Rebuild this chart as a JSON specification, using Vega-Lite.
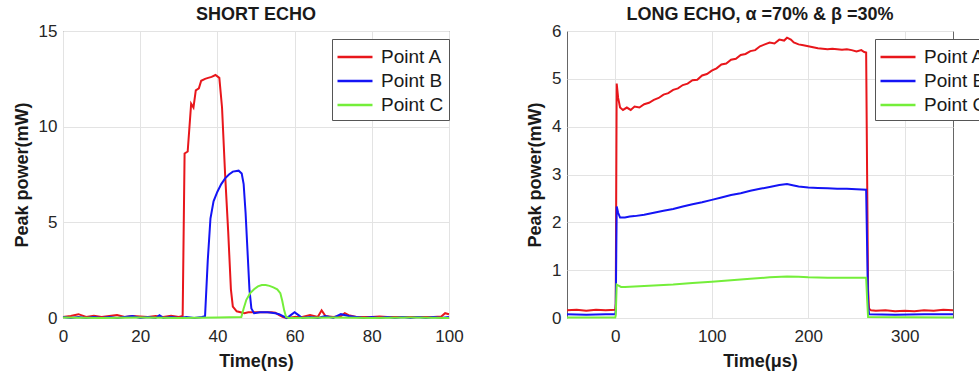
{
  "$schema": "https://vega.github.io/schema/vega-lite/v6.json",
  "padding": {"left": 12, "top": 5, "right": -7, "bottom": 0},
  "background": "white",
  "spacing": 62,
  "config": {
    "font": "Liberation Sans",
    "view": {"stroke": "#666666", "strokeWidth": 1},
    "axis": {
      "domain": false, "ticks": false, "grid": true, "gridColor": "#e3e3e3", "labelFlush": false,
      "labelFont": "Liberation Sans", "labelFontSize": 17, "labelColor": "#262626",
      "titleFont": "Liberation Sans", "titleFontSize": 18, "titleFontWeight": "bold", "titleColor": "#1a1a1a"
    },
    "axisY": {"labelPadding": 6, "titlePadding": 7},
    "axisX": {"labelPadding": 10, "titlePadding": 8},
    "title": {"font": "Liberation Sans", "fontSize": 18, "fontWeight": "bold", "color": "#1a1a1a", "offset": -2},
    "legend": {
      "orient": "none", "legendY": 8, "title": null,
      "symbolType": "M-1.5,0H1.5", "symbolSize": 544, "symbolStrokeWidth": 2.5, "symbolOffset": 5,
      "labelFont": "Liberation Sans", "labelFontSize": 19, "labelColor": "#1a1a1a", "labelOffset": 13,
      "fillColor": "white", "strokeColor": "#555", "padding": 5, "rowPadding": 1
    }
  },
  "datasets": {
    "short": [
      {"t":0,"p":0.05,"s":"Point A"},{"t":2,"p":0.1,"s":"Point A"},{"t":4,"p":0.2,"s":"Point A"},{"t":6,"p":0.05,"s":"Point A"},{"t":8,"p":0.12,"s":"Point A"},{"t":10,"p":0.05,"s":"Point A"},{"t":12,"p":0.1,"s":"Point A"},{"t":14,"p":0.15,"s":"Point A"},{"t":16,"p":0.05,"s":"Point A"},{"t":18,"p":0.1,"s":"Point A"},{"t":20,"p":0.08,"s":"Point A"},{"t":22,"p":0.05,"s":"Point A"},{"t":24,"p":0.1,"s":"Point A"},{"t":26,"p":0.05,"s":"Point A"},{"t":28,"p":0.12,"s":"Point A"},{"t":30,"p":0.05,"s":"Point A"},{"t":31,"p":0.1,"s":"Point A"},{"t":31.5,"p":8.6,"s":"Point A"},{"t":32.3,"p":8.7,"s":"Point A"},{"t":33.2,"p":11.2,"s":"Point A"},{"t":33.8,"p":11.0,"s":"Point A"},{"t":34.4,"p":11.9,"s":"Point A"},{"t":35.2,"p":12.0,"s":"Point A"},{"t":35.8,"p":12.4,"s":"Point A"},{"t":36.8,"p":12.5,"s":"Point A"},{"t":37.6,"p":12.55,"s":"Point A"},{"t":38.5,"p":12.6,"s":"Point A"},{"t":39.5,"p":12.7,"s":"Point A"},{"t":40.5,"p":12.55,"s":"Point A"},{"t":41.2,"p":11.0,"s":"Point A"},{"t":42,"p":7.5,"s":"Point A"},{"t":42.8,"p":4.5,"s":"Point A"},{"t":43.5,"p":1.5,"s":"Point A"},{"t":44,"p":0.6,"s":"Point A"},{"t":45,"p":0.35,"s":"Point A"},{"t":46,"p":0.3,"s":"Point A"},{"t":47,"p":0.25,"s":"Point A"},{"t":48,"p":0.3,"s":"Point A"},{"t":50,"p":0.3,"s":"Point A"},{"t":52,"p":0.3,"s":"Point A"},{"t":54,"p":0.3,"s":"Point A"},{"t":55,"p":0.28,"s":"Point A"},{"t":56,"p":0.15,"s":"Point A"},{"t":57,"p":0.05,"s":"Point A"},{"t":58,"p":0.0,"s":"Point A"},{"t":60,"p":0.05,"s":"Point A"},{"t":62,"p":0.05,"s":"Point A"},{"t":64,"p":0.15,"s":"Point A"},{"t":66,"p":0.05,"s":"Point A"},{"t":67,"p":0.4,"s":"Point A"},{"t":68,"p":0.1,"s":"Point A"},{"t":70,"p":0.05,"s":"Point A"},{"t":72,"p":0.1,"s":"Point A"},{"t":73,"p":0.25,"s":"Point A"},{"t":74,"p":0.15,"s":"Point A"},{"t":76,"p":0.05,"s":"Point A"},{"t":78,"p":0.05,"s":"Point A"},{"t":80,"p":0.05,"s":"Point A"},{"t":82,"p":0.08,"s":"Point A"},{"t":84,"p":0.05,"s":"Point A"},{"t":86,"p":0.05,"s":"Point A"},{"t":88,"p":0.05,"s":"Point A"},{"t":90,"p":0.05,"s":"Point A"},{"t":92,"p":0.05,"s":"Point A"},{"t":94,"p":0.05,"s":"Point A"},{"t":96,"p":0.05,"s":"Point A"},{"t":98,"p":0.08,"s":"Point A"},{"t":99,"p":0.25,"s":"Point A"},{"t":100,"p":0.2,"s":"Point A"},
      {"t":0,"p":0.05,"s":"Point B"},{"t":2,"p":0.0,"s":"Point B"},{"t":4,"p":0.05,"s":"Point B"},{"t":6,"p":0.0,"s":"Point B"},{"t":8,"p":0.05,"s":"Point B"},{"t":10,"p":0.0,"s":"Point B"},{"t":12,"p":0.05,"s":"Point B"},{"t":14,"p":0.0,"s":"Point B"},{"t":16,"p":0.05,"s":"Point B"},{"t":18,"p":0.1,"s":"Point B"},{"t":20,"p":0.0,"s":"Point B"},{"t":22,"p":0.05,"s":"Point B"},{"t":24,"p":0.0,"s":"Point B"},{"t":25,"p":0.15,"s":"Point B"},{"t":26,"p":0.0,"s":"Point B"},{"t":28,"p":0.05,"s":"Point B"},{"t":30,"p":0.0,"s":"Point B"},{"t":32,"p":0.05,"s":"Point B"},{"t":34,"p":0.0,"s":"Point B"},{"t":36,"p":0.05,"s":"Point B"},{"t":36.8,"p":0.1,"s":"Point B"},{"t":37.5,"p":3.0,"s":"Point B"},{"t":38.2,"p":5.2,"s":"Point B"},{"t":39,"p":6.1,"s":"Point B"},{"t":40,"p":6.6,"s":"Point B"},{"t":41,"p":7.0,"s":"Point B"},{"t":42,"p":7.3,"s":"Point B"},{"t":43,"p":7.5,"s":"Point B"},{"t":44,"p":7.65,"s":"Point B"},{"t":45.5,"p":7.7,"s":"Point B"},{"t":46.3,"p":7.55,"s":"Point B"},{"t":46.8,"p":7.0,"s":"Point B"},{"t":47.3,"p":5.5,"s":"Point B"},{"t":47.8,"p":3.5,"s":"Point B"},{"t":48.3,"p":1.5,"s":"Point B"},{"t":48.8,"p":0.5,"s":"Point B"},{"t":49.5,"p":0.25,"s":"Point B"},{"t":51,"p":0.3,"s":"Point B"},{"t":53,"p":0.3,"s":"Point B"},{"t":55,"p":0.25,"s":"Point B"},{"t":56,"p":0.2,"s":"Point B"},{"t":57,"p":0.1,"s":"Point B"},{"t":58,"p":0.0,"s":"Point B"},{"t":59,"p":0.15,"s":"Point B"},{"t":60,"p":0.3,"s":"Point B"},{"t":61,"p":0.15,"s":"Point B"},{"t":62,"p":0.0,"s":"Point B"},{"t":64,"p":0.05,"s":"Point B"},{"t":66,"p":0.0,"s":"Point B"},{"t":68,"p":0.1,"s":"Point B"},{"t":70,"p":0.0,"s":"Point B"},{"t":72,"p":0.2,"s":"Point B"},{"t":74,"p":0.1,"s":"Point B"},{"t":76,"p":0.05,"s":"Point B"},{"t":78,"p":0.0,"s":"Point B"},{"t":80,"p":0.05,"s":"Point B"},{"t":82,"p":0.0,"s":"Point B"},{"t":84,"p":0.05,"s":"Point B"},{"t":86,"p":0.0,"s":"Point B"},{"t":88,"p":0.05,"s":"Point B"},{"t":90,"p":0.0,"s":"Point B"},{"t":92,"p":0.05,"s":"Point B"},{"t":94,"p":0.0,"s":"Point B"},{"t":96,"p":0.05,"s":"Point B"},{"t":98,"p":0.0,"s":"Point B"},{"t":100,"p":0.05,"s":"Point B"},
      {"t":0,"p":0.02,"s":"Point C"},{"t":10,"p":0.0,"s":"Point C"},{"t":20,"p":0.02,"s":"Point C"},{"t":30,"p":0.0,"s":"Point C"},{"t":40,"p":0.02,"s":"Point C"},{"t":46.2,"p":0.05,"s":"Point C"},{"t":46.8,"p":0.5,"s":"Point C"},{"t":47.5,"p":0.95,"s":"Point C"},{"t":48.5,"p":1.3,"s":"Point C"},{"t":49.5,"p":1.5,"s":"Point C"},{"t":50.5,"p":1.65,"s":"Point C"},{"t":51.5,"p":1.72,"s":"Point C"},{"t":52.5,"p":1.72,"s":"Point C"},{"t":53.5,"p":1.68,"s":"Point C"},{"t":54.5,"p":1.6,"s":"Point C"},{"t":55.5,"p":1.5,"s":"Point C"},{"t":56.3,"p":1.3,"s":"Point C"},{"t":56.8,"p":0.9,"s":"Point C"},{"t":57.3,"p":0.4,"s":"Point C"},{"t":57.8,"p":0.05,"s":"Point C"},{"t":58.5,"p":0.0,"s":"Point C"},{"t":70,"p":0.02,"s":"Point C"},{"t":80,"p":0.0,"s":"Point C"},{"t":90,"p":0.02,"s":"Point C"},{"t":100,"p":0.0,"s":"Point C"}
    ],
    "long": [
      {"t":-50,"p":0.16,"s":"Point A"},{"t":-40,"p":0.17,"s":"Point A"},{"t":-30,"p":0.15,"s":"Point A"},{"t":-20,"p":0.17,"s":"Point A"},{"t":-10,"p":0.16,"s":"Point A"},{"t":0,"p":0.17,"s":"Point A"},{"t":0.5,"p":0.3,"s":"Point A"},{"t":1.5,"p":4.9,"s":"Point A"},{"t":3,"p":4.6,"s":"Point A"},{"t":5,"p":4.4,"s":"Point A"},{"t":8,"p":4.35,"s":"Point A"},{"t":12,"p":4.4,"s":"Point A"},{"t":16,"p":4.35,"s":"Point A"},{"t":20,"p":4.42,"s":"Point A"},{"t":25,"p":4.4,"s":"Point A"},{"t":30,"p":4.47,"s":"Point A"},{"t":35,"p":4.5,"s":"Point A"},{"t":40,"p":4.56,"s":"Point A"},{"t":45,"p":4.6,"s":"Point A"},{"t":50,"p":4.67,"s":"Point A"},{"t":55,"p":4.7,"s":"Point A"},{"t":60,"p":4.77,"s":"Point A"},{"t":65,"p":4.8,"s":"Point A"},{"t":70,"p":4.87,"s":"Point A"},{"t":75,"p":4.9,"s":"Point A"},{"t":80,"p":4.97,"s":"Point A"},{"t":85,"p":4.98,"s":"Point A"},{"t":90,"p":5.07,"s":"Point A"},{"t":95,"p":5.1,"s":"Point A"},{"t":100,"p":5.17,"s":"Point A"},{"t":105,"p":5.22,"s":"Point A"},{"t":110,"p":5.3,"s":"Point A"},{"t":115,"p":5.32,"s":"Point A"},{"t":120,"p":5.4,"s":"Point A"},{"t":125,"p":5.42,"s":"Point A"},{"t":130,"p":5.5,"s":"Point A"},{"t":135,"p":5.52,"s":"Point A"},{"t":140,"p":5.58,"s":"Point A"},{"t":145,"p":5.6,"s":"Point A"},{"t":150,"p":5.68,"s":"Point A"},{"t":155,"p":5.72,"s":"Point A"},{"t":160,"p":5.76,"s":"Point A"},{"t":165,"p":5.74,"s":"Point A"},{"t":170,"p":5.82,"s":"Point A"},{"t":175,"p":5.8,"s":"Point A"},{"t":178,"p":5.86,"s":"Point A"},{"t":182,"p":5.82,"s":"Point A"},{"t":185,"p":5.76,"s":"Point A"},{"t":190,"p":5.72,"s":"Point A"},{"t":195,"p":5.7,"s":"Point A"},{"t":200,"p":5.68,"s":"Point A"},{"t":205,"p":5.66,"s":"Point A"},{"t":210,"p":5.64,"s":"Point A"},{"t":215,"p":5.63,"s":"Point A"},{"t":220,"p":5.62,"s":"Point A"},{"t":225,"p":5.63,"s":"Point A"},{"t":230,"p":5.62,"s":"Point A"},{"t":235,"p":5.61,"s":"Point A"},{"t":240,"p":5.62,"s":"Point A"},{"t":245,"p":5.6,"s":"Point A"},{"t":250,"p":5.57,"s":"Point A"},{"t":255,"p":5.6,"s":"Point A"},{"t":258,"p":5.56,"s":"Point A"},{"t":260,"p":5.55,"s":"Point A"},{"t":261,"p":3.0,"s":"Point A"},{"t":262,"p":0.6,"s":"Point A"},{"t":263,"p":0.2,"s":"Point A"},{"t":265,"p":0.16,"s":"Point A"},{"t":270,"p":0.15,"s":"Point A"},{"t":280,"p":0.16,"s":"Point A"},{"t":290,"p":0.14,"s":"Point A"},{"t":300,"p":0.15,"s":"Point A"},{"t":310,"p":0.14,"s":"Point A"},{"t":320,"p":0.16,"s":"Point A"},{"t":330,"p":0.15,"s":"Point A"},{"t":340,"p":0.17,"s":"Point A"},{"t":350,"p":0.16,"s":"Point A"},
      {"t":-50,"p":0.08,"s":"Point B"},{"t":-30,"p":0.07,"s":"Point B"},{"t":-10,"p":0.08,"s":"Point B"},{"t":0,"p":0.08,"s":"Point B"},{"t":0.5,"p":0.15,"s":"Point B"},{"t":1.5,"p":2.33,"s":"Point B"},{"t":3,"p":2.2,"s":"Point B"},{"t":5,"p":2.1,"s":"Point B"},{"t":10,"p":2.1,"s":"Point B"},{"t":15,"p":2.12,"s":"Point B"},{"t":20,"p":2.13,"s":"Point B"},{"t":30,"p":2.16,"s":"Point B"},{"t":40,"p":2.2,"s":"Point B"},{"t":50,"p":2.24,"s":"Point B"},{"t":60,"p":2.28,"s":"Point B"},{"t":70,"p":2.33,"s":"Point B"},{"t":80,"p":2.38,"s":"Point B"},{"t":90,"p":2.42,"s":"Point B"},{"t":100,"p":2.47,"s":"Point B"},{"t":110,"p":2.52,"s":"Point B"},{"t":120,"p":2.57,"s":"Point B"},{"t":130,"p":2.61,"s":"Point B"},{"t":140,"p":2.66,"s":"Point B"},{"t":150,"p":2.7,"s":"Point B"},{"t":160,"p":2.74,"s":"Point B"},{"t":170,"p":2.78,"s":"Point B"},{"t":178,"p":2.8,"s":"Point B"},{"t":185,"p":2.77,"s":"Point B"},{"t":190,"p":2.75,"s":"Point B"},{"t":200,"p":2.73,"s":"Point B"},{"t":210,"p":2.72,"s":"Point B"},{"t":220,"p":2.71,"s":"Point B"},{"t":230,"p":2.7,"s":"Point B"},{"t":240,"p":2.7,"s":"Point B"},{"t":250,"p":2.69,"s":"Point B"},{"t":260,"p":2.68,"s":"Point B"},{"t":261,"p":1.5,"s":"Point B"},{"t":262,"p":0.3,"s":"Point B"},{"t":263,"p":0.08,"s":"Point B"},{"t":290,"p":0.07,"s":"Point B"},{"t":320,"p":0.08,"s":"Point B"},{"t":350,"p":0.08,"s":"Point B"},
      {"t":-50,"p":0.01,"s":"Point C"},{"t":0,"p":0.01,"s":"Point C"},{"t":0.5,"p":0.05,"s":"Point C"},{"t":1.5,"p":0.7,"s":"Point C"},{"t":3,"p":0.68,"s":"Point C"},{"t":6,"p":0.65,"s":"Point C"},{"t":10,"p":0.65,"s":"Point C"},{"t":20,"p":0.66,"s":"Point C"},{"t":40,"p":0.68,"s":"Point C"},{"t":60,"p":0.7,"s":"Point C"},{"t":80,"p":0.73,"s":"Point C"},{"t":100,"p":0.76,"s":"Point C"},{"t":120,"p":0.79,"s":"Point C"},{"t":140,"p":0.82,"s":"Point C"},{"t":160,"p":0.85,"s":"Point C"},{"t":178,"p":0.87,"s":"Point C"},{"t":190,"p":0.86,"s":"Point C"},{"t":200,"p":0.85,"s":"Point C"},{"t":220,"p":0.84,"s":"Point C"},{"t":240,"p":0.84,"s":"Point C"},{"t":260,"p":0.84,"s":"Point C"},{"t":261,"p":0.4,"s":"Point C"},{"t":262,"p":0.02,"s":"Point C"},{"t":350,"p":0.01,"s":"Point C"}
    ]
  },
  "resolve": {"scale": {"color": "independent"}, "legend": {"color": "independent"}},
  "hconcat": [
    {
      "title": "SHORT ECHO",
      "width": 386, "height": 287,
      "data": {"name": "short"},
      "mark": {"type": "line", "strokeWidth": 2, "interpolate": "linear"},
      "encoding": {
        "x": {"field": "t", "type": "quantitative", "scale": {"domain": [0, 100], "nice": false}, "axis": {"values": [0, 20, 40, 60, 80, 100], "title": "Time(ns)"}},
        "y": {"field": "p", "type": "quantitative", "scale": {"domain": [0, 15], "nice": false}, "axis": {"values": [0, 5, 10, 15], "title": "Peak power(mW)"}},
        "color": {"field": "s", "type": "nominal", "scale": {"domain": ["Point A", "Point B", "Point C"], "range": ["#e8161b", "#1414f5", "#74ee3a"]}, "legend": {"legendX": 269}}
      }
    },
    {
      "title": "LONG ECHO, α =70% & β =30%",
      "width": 386, "height": 287,
      "data": {"name": "long"},
      "mark": {"type": "line", "strokeWidth": 2, "interpolate": "linear"},
      "encoding": {
        "x": {"field": "t", "type": "quantitative", "scale": {"domain": [-50, 350], "nice": false}, "axis": {"values": [0, 100, 200, 300], "title": "Time(μs)"}},
        "y": {"field": "p", "type": "quantitative", "scale": {"domain": [0, 6], "nice": false}, "axis": {"values": [0, 1, 2, 3, 4, 5, 6], "title": "Peak power(mW)"}},
        "color": {"field": "s", "type": "nominal", "scale": {"domain": ["Point A", "Point B", "Point C"], "range": ["#e8161b", "#1414f5", "#74ee3a"]}, "legend": {"legendX": 308}}
      }
    }
  ]
}
